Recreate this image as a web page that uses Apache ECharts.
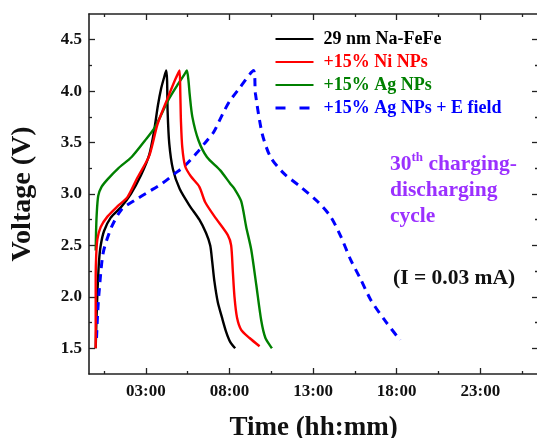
<!DOCTYPE html>
<html>
<head>
<meta charset="utf-8">
<script src="https://cdn.jsdelivr.net/npm/echarts@6/dist/echarts.min.js"></script>
<style>
  html, body { margin: 0; padding: 0; background: #fff; }
  #chart { width: 537px; height: 438px; }
</style>
</head>
<body>
<div id="chart"></div>
<script>
// Time in hours since the start of the 30th cycle, voltage in volts
const blackTime = [0.0, 0.05, 0.12, 0.2, 0.3, 0.5, 0.9, 1.5, 2.1, 2.7, 3.2, 3.5, 3.72, 3.92, 4.12, 4.22,
  4.27, 4.3, 4.4, 4.62, 5.02, 5.6, 6.2, 6.6, 6.85, 6.97, 7.1, 7.3, 7.55, 7.8, 8.05, 8.34];
const blackVoltage = [1.5, 1.8, 2.1, 2.35, 2.5, 2.64, 2.77, 2.87, 3.0, 3.18, 3.38, 3.62, 3.86, 4.03, 4.15, 4.2,
  4.1, 3.81, 3.49, 3.24, 3.05, 2.89, 2.75, 2.62, 2.5, 2.34, 2.15, 1.95, 1.8, 1.66, 1.56, 1.5];

const redTime = [0.0, 0.0, 0.03, 0.1, 0.3, 0.7, 1.3, 1.9, 2.5, 3.2, 3.7, 4.3, 4.75, 4.95, 5.02,
  5.06, 5.1, 5.18, 5.35, 5.7, 6.2, 6.55, 7.2, 7.9, 8.1, 8.2, 8.3, 8.45, 8.7, 9.2, 9.8];
const redVoltage = [1.5, 2.2, 2.4, 2.56, 2.68, 2.78, 2.88, 2.97, 3.16, 3.37, 3.68, 3.93, 4.11, 4.18, 4.2,
  3.98, 3.7, 3.45, 3.27, 3.17, 3.07, 2.92, 2.76, 2.6, 2.5, 2.25, 2.0, 1.8, 1.68, 1.6, 1.52];

const greenTime = [0.0, 0.02, 0.06, 0.15, 0.35, 0.75, 1.35, 2.15, 2.95, 3.55, 4.33, 4.93, 5.3, 5.45,
  5.55, 5.62, 5.78, 6.15, 6.65, 7.45, 8.05, 8.3, 8.7, 9.0, 9.3, 9.6, 9.9, 10.15, 10.54];
const greenVoltage = [2.45, 2.62, 2.8, 2.98, 3.07, 3.15, 3.25, 3.36, 3.52, 3.65, 3.91, 4.07, 4.16, 4.2,
  4.1, 3.97, 3.75, 3.52, 3.36, 3.23, 3.1, 3.05, 2.93, 2.68, 2.46, 2.12, 1.77, 1.6, 1.5];

const blueTime = [0.05, 0.12, 0.2, 0.45, 0.95, 1.55, 2.35, 3.15, 3.95, 4.75, 5.3, 6.05, 6.5, 7.05, 7.6, 8.0, 8.65, 9.44,
  9.55, 9.95, 10.45, 11.25, 12.25, 13.25, 14.05, 14.65, 15.25, 15.85, 16.45, 17.25, 18.2];
const blueVoltage = [1.6, 1.85, 2.04, 2.43, 2.68, 2.85, 2.94, 3.02, 3.1, 3.2, 3.27, 3.4, 3.49, 3.6, 3.78, 3.9, 4.04, 4.2,
  3.98, 3.59, 3.36, 3.2, 3.07, 2.93, 2.78, 2.59, 2.36, 2.17, 1.97, 1.78, 1.58];

const seriesNames = ['29 nm Na-FeFe', '+15% Ni NPs', '+15% Ag NPs', '+15% Ag NPs + E field'];
const seriesColors = ['#000000', '#ff0000', '#008000', '#0000ff'];

const xLabelHours = [3, 8, 13, 18, 23];
const xMinorHours = [0.5, 5.5, 10.5, 15.5, 20.5, 25.5];
const yLabelVolts = [1.5, 2.0, 2.5, 3.0, 3.5, 4.0, 4.5];
const yMinorVolts = [1.75, 2.25, 2.75, 3.25, 3.75, 4.25];

const X_MIN = -0.4, X_MAX = 26.45, Y_MIN = 1.25, Y_MAX = 4.75;
const FONT = '"Liberation Serif", "Times New Roman", serif';
const AXIS_COLOR = '#222';

function zip(a, b) { return a.map((v, i) => [v, b[i]]); }
function hhmm(h) {
  const total = Math.round(h * 60);
  const hh = Math.floor(total / 60), mm = total % 60;
  return String(hh).padStart(2, '0') + ':' + String(mm).padStart(2, '0');
}

function xAxisDef(pos, ticks, len, withLabels, withLine) {
  return {
    type: 'value', position: pos, min: X_MIN, max: X_MAX,
    splitLine: { show: false },
    axisLine: { show: withLine, onZero: false, lineStyle: { color: AXIS_COLOR, width: 1.6 } },
    axisTick: { show: true, inside: true, length: len, customValues: ticks, lineStyle: { color: AXIS_COLOR, width: 1.3 } },
    axisLabel: withLabels ? {
      show: true, customValues: xLabelHours, formatter: hhmm, margin: 9,
      fontFamily: FONT, fontWeight: 'bold', fontSize: 17, color: '#111'
    } : { show: false },
    name: withLabels ? 'Time (hh:mm)' : '',
    nameLocation: 'middle', nameGap: 41,
    nameTextStyle: { fontFamily: FONT, fontWeight: 'bold', fontSize: 27, color: '#111' }
  };
}
function yAxisDef(pos, ticks, len, withLabels, withLine) {
  return {
    type: 'value', position: pos, min: Y_MIN, max: Y_MAX,
    splitLine: { show: false },
    axisLine: { show: withLine, onZero: false, lineStyle: { color: AXIS_COLOR, width: 1.6 } },
    axisTick: { show: true, inside: true, length: len, customValues: ticks, lineStyle: { color: AXIS_COLOR, width: 1.3 } },
    axisLabel: withLabels ? {
      show: true, customValues: yLabelVolts, formatter: v => v.toFixed(1), margin: 7,
      fontFamily: FONT, fontWeight: 'bold', fontSize: 17, color: '#111'
    } : { show: false },
    name: withLabels ? 'Voltage (V)' : '',
    nameLocation: 'middle', nameGap: 52, nameRotate: 90,
    nameTextStyle: { fontFamily: FONT, fontWeight: 'bold', fontSize: 28, color: '#111' }
  };
}

const curves = [
  zip(blackTime, blackVoltage),
  zip(redTime, redVoltage),
  zip(greenTime, greenVoltage),
  zip(blueTime, blueVoltage)
];

const chart = echarts.init(document.getElementById('chart'), null, { renderer: 'canvas' });
chart.setOption({
  animation: false,
  backgroundColor: '#fff',
  grid: { left: 89, right: -1, top: 14, bottom: 64, containLabel: false, outerBoundsMode: 'none' },
  xAxis: [
    xAxisDef('bottom', xLabelHours, 6, true, true),
    xAxisDef('bottom', xMinorHours, 3, false, false),
    xAxisDef('top', xLabelHours, 6, false, true),
    xAxisDef('top', xMinorHours, 3, false, false)
  ],
  yAxis: [
    yAxisDef('left', yLabelVolts, 6, true, true),
    yAxisDef('left', yMinorVolts, 3, false, false),
    yAxisDef('right', yLabelVolts, 6, false, true),
    yAxisDef('right', yMinorVolts, 3, false, false)
  ],
  legend: {
    orient: 'vertical', left: 269, top: 25,
    itemWidth: 38, itemHeight: 14, itemGap: 5,
    itemStyle: { opacity: 0 },
    textStyle: { fontFamily: FONT, fontWeight: 'bold', fontSize: 18, padding: [0, 0, 0, 5] },
    data: seriesNames.map((n, i) => ({
      name: n,
      textStyle: { color: seriesColors[i] },
      lineStyle: i === 3 ? { type: [10, 14], width: 3 } : undefined
    }))
  },
  series: curves.map((d, i) => ({
    type: 'line', name: seriesNames[i], data: d,
    xAxisIndex: 0, yAxisIndex: 0,
    symbol: 'none', smooth: 0.25,
    color: seriesColors[i],
    lineStyle: { color: seriesColors[i], width: i === 3 ? 3 : 2.4, type: i === 3 ? [8, 6] : 'solid' },
    z: i === 1 ? 5 : 3
  })),
  graphic: [
    {
      type: 'text', left: 390, top: 151,
      style: {
        text: '{n|30}{s|th}{n| charging-}\n{n|discharging}\n{n|cycle}',
        lineHeight: 26,
        rich: {
          n: { fontFamily: FONT, fontWeight: 'bold', fontSize: 21.5, fill: '#9b30ff', lineHeight: 26 },
          s: { fontFamily: FONT, fontWeight: 'bold', fontSize: 13, fill: '#9b30ff', verticalAlign: 'top', lineHeight: 26, padding: [0, 0, 10, 0] }
        }
      }
    },
    {
      type: 'text', left: 393, top: 267,
      style: { text: '(I = 0.03 mA)', fontFamily: FONT, fontWeight: 'bold', fontSize: 21.5, fill: '#111' }
    }
  ]
});
</script>
</body>
</html>
